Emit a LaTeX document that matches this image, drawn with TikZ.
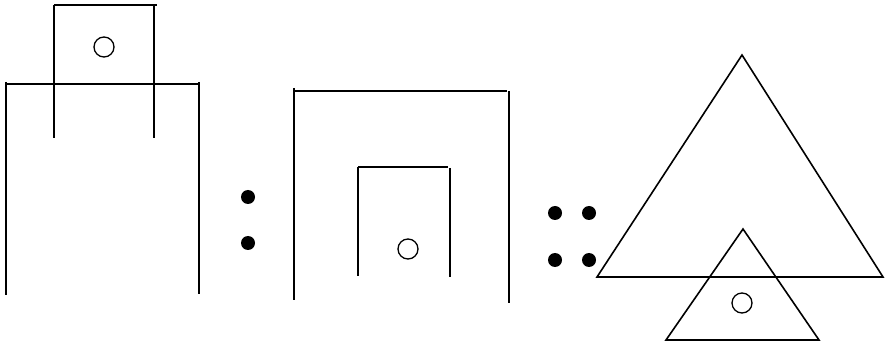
\documentclass[tikz,border=0pt]{standalone}
\begin{document}
\begin{tikzpicture}[x=1pt,y=-1pt,
  ln/.style={line width=1.6pt,line cap=butt},
  ring/.style={line width=1.3pt},
  dot/.style={fill=black}]
\useasboundingbox (0,0) rectangle (888,347);
% left figure
\draw[ln] (54,5) -- (157,5);
\draw[ln] (54,5) -- (54,138);
\draw[ln] (154,5) -- (154,138);
\draw[ring] (104,47) circle (10);
\draw[ln] (6,84) -- (199,84);
\draw[ln] (6,82) -- (6,295);
\draw[ln] (199,82) -- (199,294);
% colon
\fill[dot] (248,197) circle (7);
\fill[dot] (248,243) circle (7);
% middle figure
\draw[ln] (294,91) -- (507,91);
\draw[ln] (294,88) -- (294,300);
\draw[ln] (509,91) -- (509,303);
\draw[ln] (358,167) -- (448,167);
\draw[ln] (358,167) -- (358,276);
\draw[ln] (450,168) -- (450,277);
\draw[ring] (408,249) circle (10);
% double colon
\fill[dot] (555,213) circle (7);
\fill[dot] (589,213) circle (7);
\fill[dot] (555,260) circle (7);
\fill[dot] (589,260) circle (7);
% triangles
\draw[ln,line join=miter] (742,55) -- (883,277) -- (597,277) -- cycle;
\draw[ln,line join=miter] (743,229) -- (819,340) -- (666,340) -- cycle;
\draw[ring] (742,303) circle (10);
\end{tikzpicture}
\end{document}
